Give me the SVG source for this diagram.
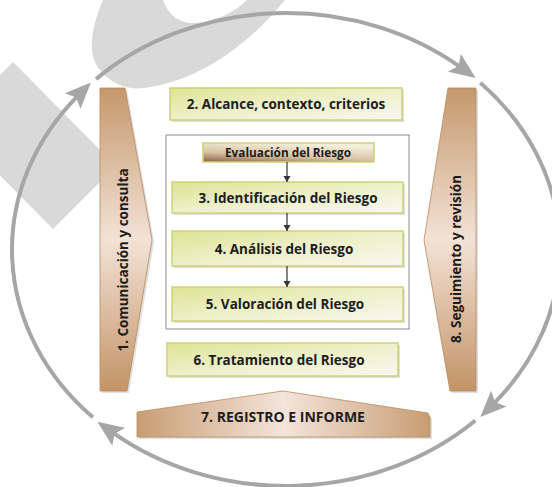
<svg xmlns="http://www.w3.org/2000/svg" width="552" height="487" viewBox="0 0 552 487">
<style>
.lbl{font-family:"Open Sans","Liberation Sans",sans-serif;font-weight:700;font-size:13.5px;fill:#1c1c1c;text-anchor:middle}
.small{font-size:11.8px}
.caps{font-size:14px}
.box{fill:url(#gGreen);stroke:#cdd27a;stroke-width:1.5}
.shadow{fill:#b9b9b9;opacity:.45}
.tan{stroke:#b68a60;stroke-width:.8}
.cyc{fill:none;stroke:#a6a6a6;stroke-width:4;marker-end:url(#cycHead)}
.flow{stroke:#333;stroke-width:1.2;marker-end:url(#flowHead)}
.wm{fill:#d9d9d9}
</style>
<defs>
<linearGradient id="gGreen" x1="0" y1="0" x2="1" y2="1">
<stop offset="0" stop-color="#dfe394"/>
<stop offset="0.5" stop-color="#eef0c9"/>
<stop offset="1" stop-color="#f8f8f0"/>
</linearGradient>
<linearGradient id="gTanV" x1="0" y1="0" x2="0" y2="1">
<stop offset="0" stop-color="#c5986c"/>
<stop offset="0.5" stop-color="#f3e2d6"/>
<stop offset="1" stop-color="#c39468"/>
</linearGradient>
<linearGradient id="gTanH" x1="0" y1="0" x2="1" y2="0">
<stop offset="0" stop-color="#c89d73"/>
<stop offset="0.5" stop-color="#f4e4da"/>
<stop offset="1" stop-color="#c89d73"/>
</linearGradient>
<linearGradient id="gEval" x1="0" y1="1" x2="0.45" y2="0">
<stop offset="0" stop-color="#8c6044"/>
<stop offset="0.45" stop-color="#d8c3a6"/>
<stop offset="1" stop-color="#f4efd9"/>
</linearGradient>
<marker id="cycHead" markerUnits="userSpaceOnUse" viewBox="-10 -12 30 24" markerWidth="30" markerHeight="24" refX="0" refY="0" orient="auto">
<path d="M18,0 L-8,-11 L-3,0 L-8,11 Z" fill="#a6a6a6"/>
</marker>
<marker id="flowHead" markerUnits="userSpaceOnUse" viewBox="-1 -4 8 8" markerWidth="8" markerHeight="8" refX="6" refY="0" orient="auto">
<path d="M0,-3.5 L6,0 L0,3.5 Z" fill="#333"/>
</marker>
</defs>

<g id="watermark">
<path class="wm" fill-rule="evenodd" d="M103,0 C92,25 86,55 100,70 C112,85 128,90 145,88 C190,82 240,55 285,0 Z M163,0 C168,15 180,24 195,23 C215,22 235,12 247,0 Z"/>
<polygon class="wm" points="13,62 116,166 53,229 -50,125"/>
</g>

<g id="connectors">
<path class="cyc" d="M92.9,417.3 A274 236.5 0 0 1 78.3,95.3"/>
<path class="cyc" d="M96,79.1 A274 236.5 0 0 1 461,67.5"/>
<path class="cyc" d="M480.3,82.8 A274 236.5 0 0 1 493.1,404.3"/>
<path class="cyc" d="M475.3,420.5 A274 236.5 0 0 1 112.1,432.2"/>
</g>

<g id="n1">
<polygon class="shadow" points="102,90 127,90 154,242 129,393 102,393"/>
<polygon class="tan" fill="url(#gTanV)" points="100,88 125,88 152,240 127,391 100,391"/>
<text class="lbl" transform="translate(128,260) rotate(-90)">1. Comunicación y consulta</text>
</g>

<g id="n8">
<polygon class="shadow" points="450,90 478,90 478,393 452,393 426,242"/>
<polygon class="tan" fill="url(#gTanV)" points="448,88 476,88 476,391 450,391 424,240"/>
<text class="lbl" transform="translate(461,259) rotate(-90)">8. Seguimiento y revisión</text>
</g>

<g id="n2">
<rect class="shadow" x="172" y="90" width="232" height="32"/>
<rect class="box" x="170" y="88" width="232" height="32"/>
<text class="lbl" x="286" y="109">2. Alcance, contexto, criterios</text>
</g>

<g id="container">
<rect x="166" y="135" width="243" height="194" fill="#fff" stroke="#8a8a8a" stroke-width="1"/>
</g>

<g id="nEval">
<rect x="203" y="143" width="171" height="19" fill="url(#gEval)" stroke="#cdd27a" stroke-width="1.5"/>
<text class="lbl small" x="288" y="157">Evaluación del Riesgo</text>
</g>

<g id="n3">
<rect class="shadow" x="174" y="184" width="231" height="31"/>
<rect class="box" x="172" y="182" width="231" height="31"/>
<text class="lbl" x="288" y="203">3. Identificación del Riesgo</text>
</g>

<g id="n4">
<rect class="shadow" x="174" y="233" width="231" height="35"/>
<rect class="box" x="172" y="231" width="231" height="35"/>
<text class="lbl" x="284" y="254">4. Análisis del Riesgo</text>
</g>

<g id="n5">
<rect class="shadow" x="174" y="289" width="231" height="34"/>
<rect class="box" x="172" y="287" width="231" height="34"/>
<text class="lbl" x="285" y="309">5. Valoración del Riesgo</text>
</g>

<g id="flows">
<line class="flow" x1="287" y1="162" x2="287" y2="182"/>
<line class="flow" x1="287" y1="213" x2="287" y2="231"/>
<line class="flow" x1="287" y1="266" x2="287" y2="287"/>
</g>

<g id="n6">
<rect class="shadow" x="169" y="345" width="231" height="33"/>
<rect class="box" x="167" y="343" width="231" height="33"/>
<text class="lbl" x="279" y="365">6. Tratamiento del Riesgo</text>
</g>

<g id="n7">
<polygon class="shadow" points="139,414 285,393 430,415 432,420 432,439 139,439"/>
<polygon class="tan" fill="url(#gTanH)" points="137,412 283,391 428,413 430,418 430,437 137,437"/>
<text class="lbl caps" x="283" y="422">7. REGISTRO E INFORME</text>
</g>
</svg>
